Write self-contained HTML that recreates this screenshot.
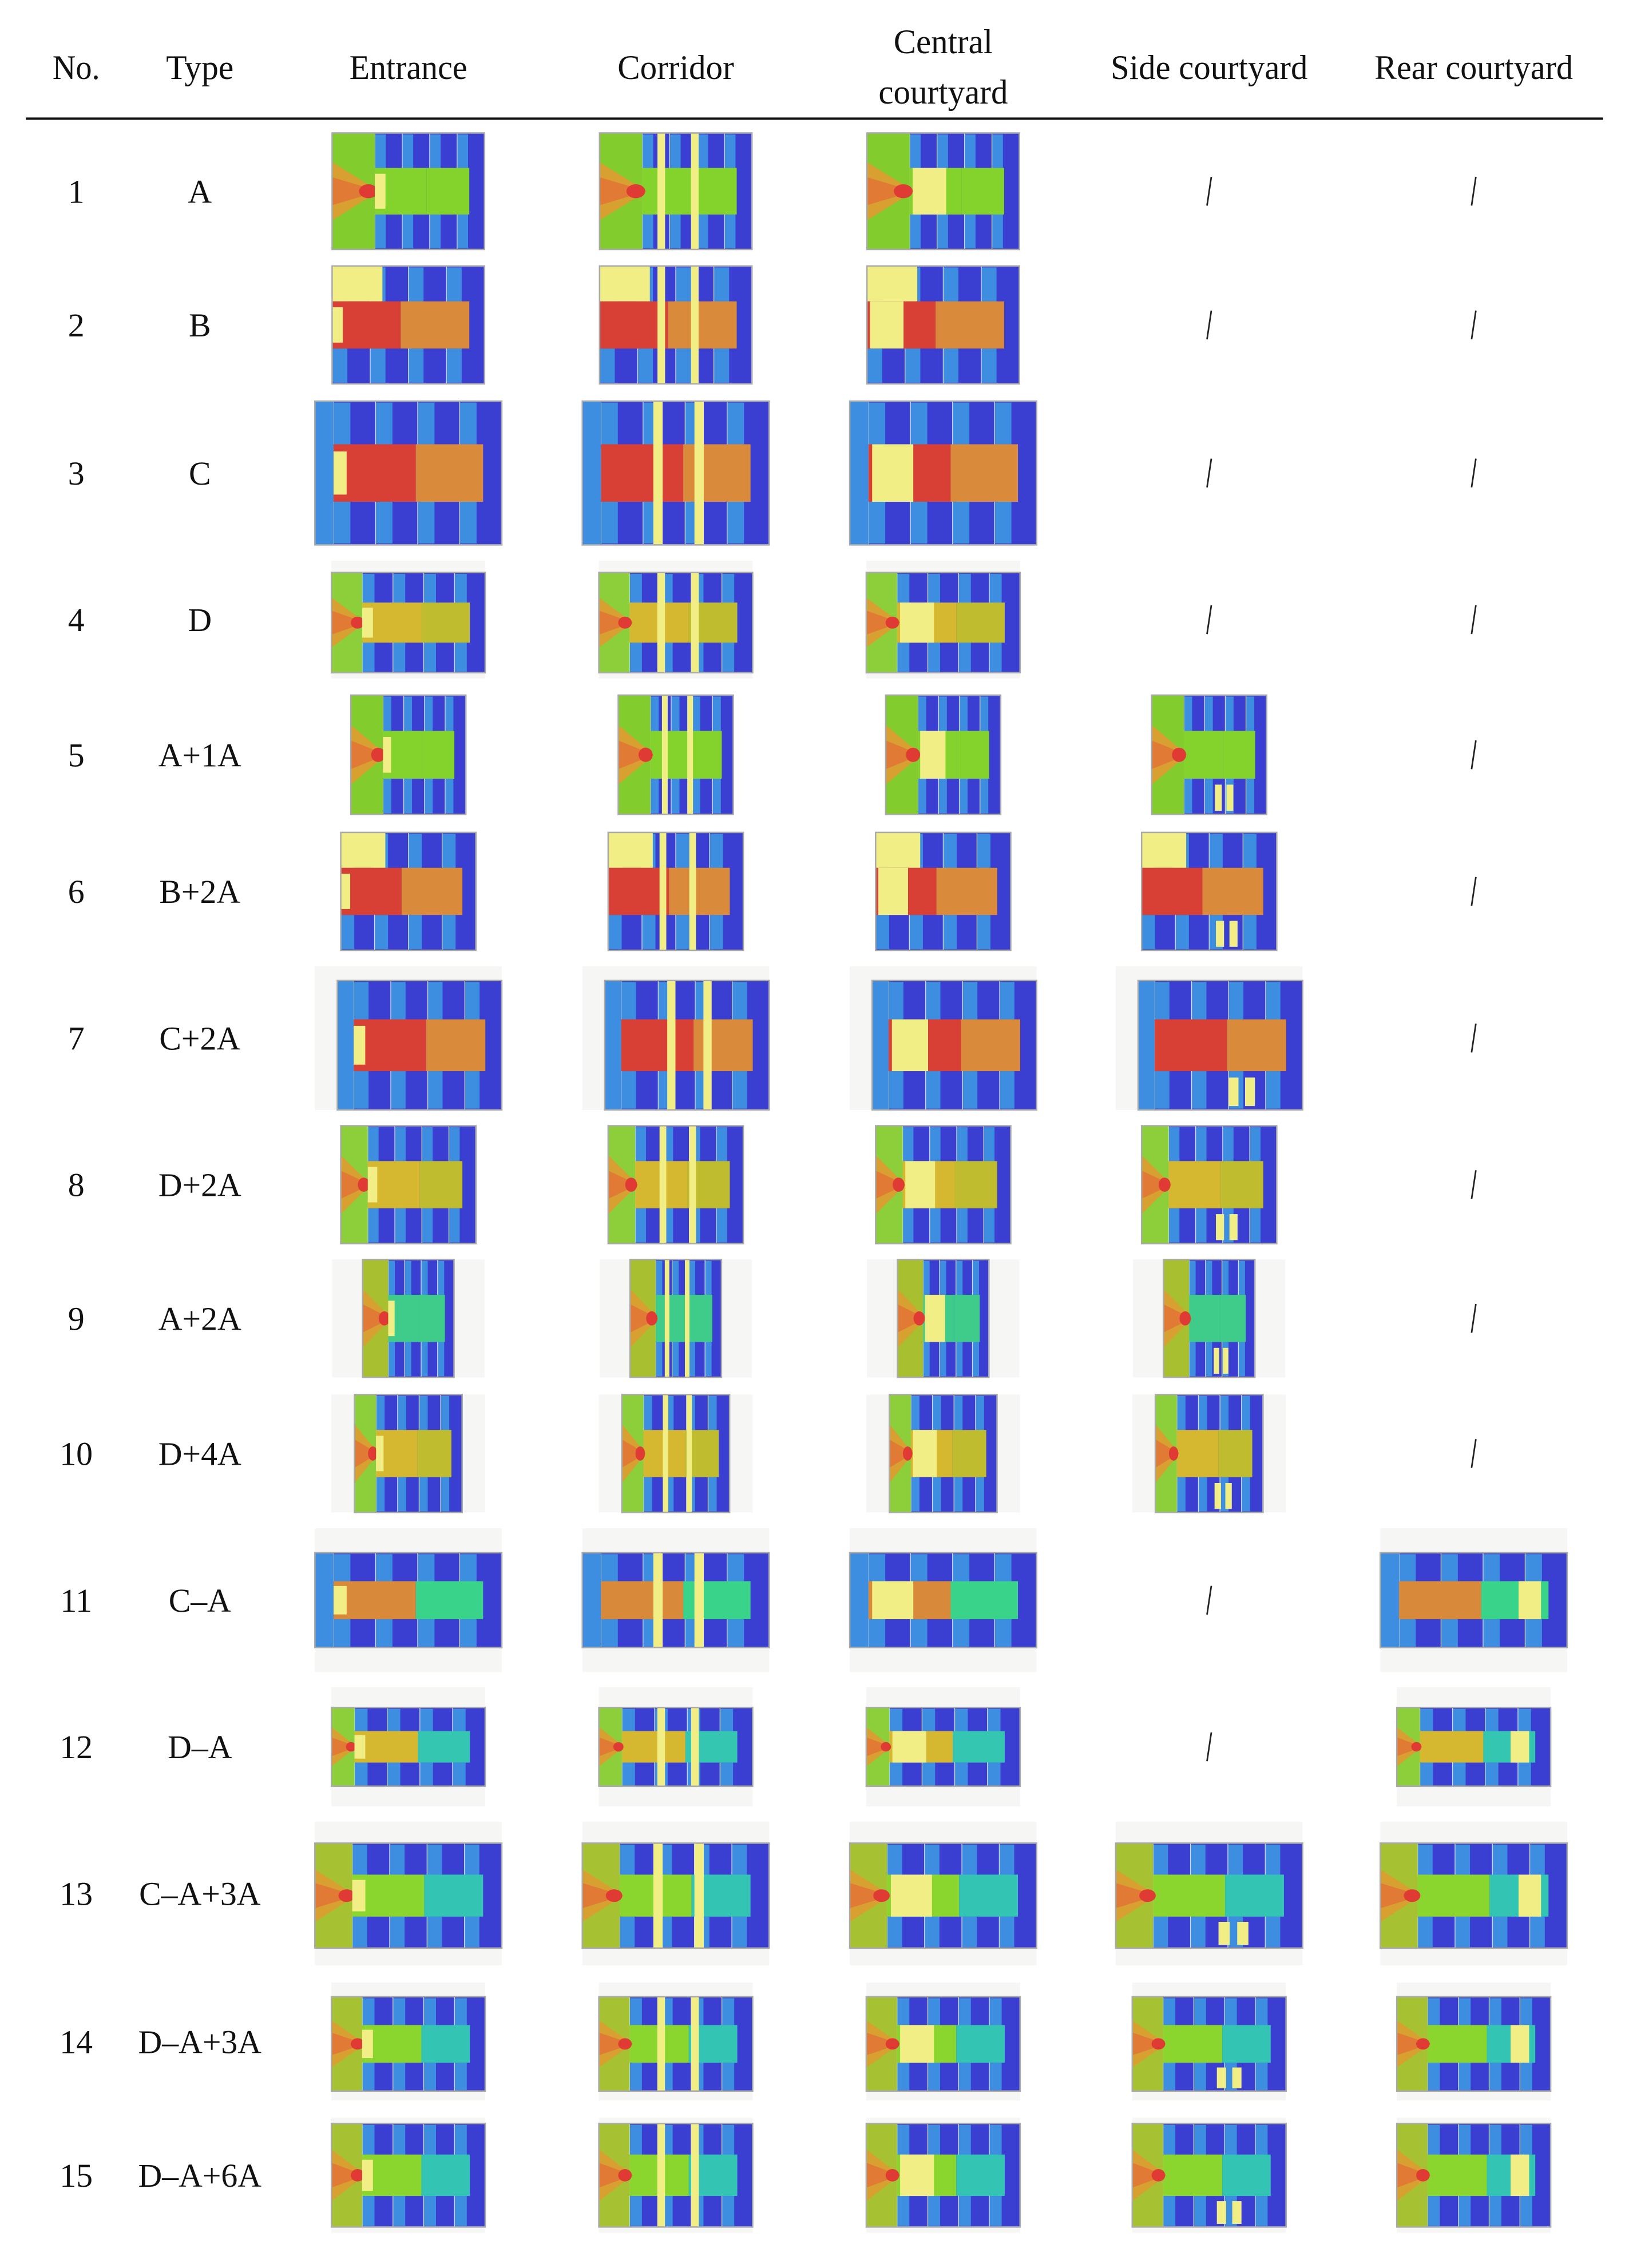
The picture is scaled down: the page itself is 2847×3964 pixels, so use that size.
<!DOCTYPE html>
<html><head><meta charset="utf-8"><style>
html,body{margin:0;padding:0;background:#fff;}
svg{display:block;}
text{font-family:"Liberation Serif",serif;fill:#111;}
</style></head><body>
<svg id="tbl" width="2847" height="3964" viewBox="0 0 1133 1577.5" xmlns="http://www.w3.org/2000/svg">
<g>
<text x="53" y="55" font-size="24" text-anchor="middle" textLength="33" lengthAdjust="spacingAndGlyphs">No.</text>
<text x="139" y="55" font-size="24" text-anchor="middle" textLength="47" lengthAdjust="spacingAndGlyphs">Type</text>
<text x="284" y="55" font-size="24" text-anchor="middle" textLength="82" lengthAdjust="spacingAndGlyphs">Entrance</text>
<text x="470" y="55" font-size="24" text-anchor="middle" textLength="81" lengthAdjust="spacingAndGlyphs">Corridor</text>
<text x="656" y="37" font-size="24" text-anchor="middle" textLength="69" lengthAdjust="spacingAndGlyphs">Central</text>
<text x="656" y="72" font-size="24" text-anchor="middle" textLength="90" lengthAdjust="spacingAndGlyphs">courtyard</text>
<text x="841" y="55" font-size="24" text-anchor="middle" textLength="137" lengthAdjust="spacingAndGlyphs">Side courtyard</text>
<text x="1025" y="55" font-size="24" text-anchor="middle" textLength="138" lengthAdjust="spacingAndGlyphs">Rear courtyard</text>
</g>
<line x1="18" y1="82.5" x2="1115" y2="82.5" stroke="#111" stroke-width="1.6"/>
<g id="body"></g>
</svg>
<script>
const rowNos=["1","2","3","4","5","6","7","8","9","10","11","12","13","14","15"];
const rowTypes=["A","B","C","D","A+1A","B+2A","C+2A","D+2A","A+2A","D+4A","C\u2013A","D\u2013A","C\u2013A+3A","D\u2013A+3A","D\u2013A+6A"];
const rowY=[133,226,329,431,525,620,722,824,917,1011,1113,1215,1317,1420,1513];
const rowThemes=["A","B","C","D","A","B","C","D","A2","D","C2","D2","E","E","E"];
const rowCols=[[1,1,1,0,0],[1,1,1,0,0],[1,1,1,0,0],[1,1,1,0,0],[1,1,1,1,0],[1,1,1,1,0],[1,1,1,1,0],[1,1,1,1,0],[1,1,1,1,0],[1,1,1,1,0],[1,1,1,0,1],[1,1,1,0,1],[1,1,1,1,1],[1,1,1,1,1],[1,1,1,1,1]];
const colX=[284,470,656,841,1025];
const variants=["entrance","corridor","central","side","rear"];
const rowSize=[[106,81],[106,82],[130,100],[107,82],[80,83],[94,82],[130,100],[94,82],[106,82],[107,82],[130,100],[107,83],[130,100],[107,82],[107,80]];
const rowBg=[0,0,0,1,0,1,1,1,1,1,1,1,1,1,1];
const rowInset=[[0,0],[0,0],[0,0],[0.1,0.05],[0,0],[0,0],[0.1,0],[0,0],[0,0],[0,0],[0.17,0.17],[0.17,0.17],[0.15,0.12],[0.12,0.08],[0.05,0.05]];
const rowInsetX=[[0,0],[0,0],[0,0],[0,0],[0,0],[0,0],[0.12,0],[0,0],[0.2,0.2],[0.15,0.15],[0,0],[0,0],[0,0],[0,0],[0,0]];

const NS="http://www.w3.org/2000/svg";
const body=document.getElementById('body');
function mk(tag,attrs,parent){const e=document.createElementNS(NS,tag);for(const k in attrs)e.setAttribute(k,attrs[k]);(parent||body).appendChild(e);return e;}
const BLUE="#3a3fd2",LBLUE="#3d8de0",YEL="#f2ee86";
const TH={
 A:{lf:0.28,lc:"#82cc2e",cc:"#84d22c",cc2:"#84d22c",wedge:1},
 A2:{lf:0.28,lc:"#a8bf30",cc:"#3fcc8a",cc2:"#3fcc8a",wedge:1},
 B:{lf:0,lc:"#d84036",cc:"#d84036",cc2:"#d98a3a",wedge:0,b:1},
 C:{lf:0.1,lc:LBLUE,cc:"#d84036",cc2:"#d98a3a",wedge:0},
 C2:{lf:0.1,lc:LBLUE,cc:"#d9893a",cc2:"#3ad38a",wedge:0},
 D:{lf:0.2,lc:"#8ccf3a",cc:"#d6b830",cc2:"#c0bc30",wedge:1},
 D2:{lf:0.15,lc:"#8ccf3a",cc:"#d6b830",cc2:"#34c6b0",wedge:1},
 E:{lf:0.2,lc:"#a6c232",cc:"#8ad52e",cc2:"#33c4b4",wedge:1}
};
function plan(g,x,y,w,h,t,v){
 mk('rect',{x:x,y:y,width:w,height:h,fill:BLUE,stroke:"#bbb","stroke-width":0.8},g);
 const lw=w*t.lf, bandT=y+h*0.3, bandB=y+h*0.7;
 for(let i=0;i<4;i++){const rx=x+lw+(w-lw)*i/4;
  mk('rect',{x:rx,y:y+1,width:(w-lw)/10,height:h*0.29,fill:LBLUE},g);
  mk('rect',{x:rx,y:bandB,width:(w-lw)/10,height:h*0.29,fill:LBLUE},g);
  mk('line',{x1:rx,y1:y,x2:rx,y2:y+h,stroke:"#ddd","stroke-width":0.5},g);}
 const cs=x+lw, ce=x+w*0.9;
 if(t.b){
  mk('rect',{x:x,y:y,width:w*0.33,height:h*0.3,fill:YEL},g);
  mk('rect',{x:x,y:bandT,width:w*0.45,height:h*0.4,fill:t.cc},g);
  mk('rect',{x:x+w*0.45,y:bandT,width:w*0.45,height:h*0.4,fill:t.cc2},g);
 }else{
  mk('rect',{x:cs,y:bandT,width:(ce-cs)*0.55,height:h*0.4,fill:t.cc},g);
  mk('rect',{x:cs+(ce-cs)*0.55,y:bandT,width:(ce-cs)*0.45,height:h*0.4,fill:t.cc2},g);
 }
 if(lw>0){mk('rect',{x:x,y:y,width:lw,height:h,fill:t.lc},g);}
 if(t.wedge){
  mk('polygon',{points:`${x},${y+h*0.25} ${x+lw*1.1},${y+h*0.5} ${x},${y+h*0.75}`,fill:"#d8a030"},g);
  mk('polygon',{points:`${x},${y+h*0.38} ${x+lw*1.1},${y+h*0.5} ${x},${y+h*0.62}`,fill:"#e07a34"},g);
  mk('ellipse',{cx:x+lw*0.85,cy:y+h*0.5,rx:lw*0.22,ry:h*0.06,fill:"#e03a34"},g);
 }
 if(v==="entrance") mk('rect',{x:cs,y:bandT+h*0.05,width:w*0.07,height:h*0.3,fill:YEL},g);
 if(v==="corridor"){[0.38,0.6].forEach(f=>mk('rect',{x:x+w*f,y:y,width:w*0.05,height:h,fill:YEL},g));}
 if(v==="central") mk('rect',{x:cs+w*0.02,y:bandT,width:w*0.22,height:h*0.4,fill:YEL},g);
 if(v==="side"){[0.55,0.65].forEach(f=>mk('rect',{x:x+w*f,y:bandB+h*0.05,width:w*0.06,height:h*0.22,fill:YEL},g));}
 if(v==="rear") mk('rect',{x:x+w*0.74,y:bandT,width:w*0.12,height:h*0.4,fill:YEL},g);
 mk('rect',{x:x,y:y,width:w,height:h,fill:"none",stroke:"#aaa","stroke-width":1},g);
}
rowNos.forEach((no,r)=>{
 const cy=rowY[r];
 const row=mk('g',{});
 
 
 const tn=mk('text',{x:53,y:cy+8,'font-size':23,'text-anchor':'middle'},row);tn.textContent=no;
 
 
 const tt=mk('text',{x:139,y:cy+8,'font-size':23,'text-anchor':'middle'},row);tt.textContent=rowTypes[r];
 
 
 rowCols[r].forEach((has,c)=>{
  const cx=colX[c];
  if(!has){
   const s=mk('line',{x1:cx+1.5,y1:cy-10,x2:cx-1.5,y2:cy+10,stroke:"#222","stroke-width":1.1},row);
   
   
   return;
  }
  const [w,h]=rowSize[r];
  const g=mk('g',{},row);
  
  
  const x=cx-w/2,y=cy-h/2;
  if(rowBg[r]) mk('rect',{x:x,y:y,width:w,height:h,fill:"#f6f6f5"},g);
  const [it,ib]=rowInset[r];
  const [il,ir]=rowInsetX[r];
  plan(g,x+w*il,y+h*it,w*(1-il-ir),h*(1-it-ib),TH[rowThemes[r]],variants[c]);
 });
});
</script>
</body></html>
